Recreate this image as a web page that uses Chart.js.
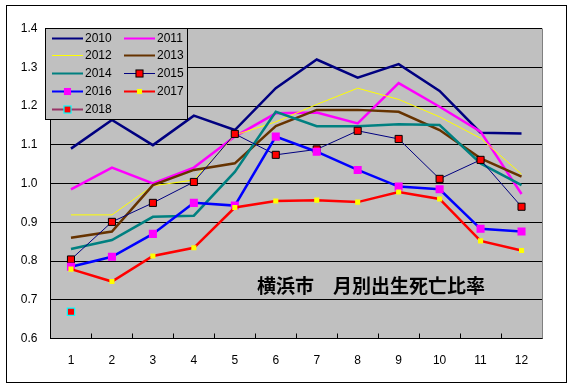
<!DOCTYPE html>
<html><head><meta charset="utf-8">
<script src="https://cdn.jsdelivr.net/npm/chart.js@4"></script>
<style>html,body{margin:0;padding:0;background:#fff;}canvas{display:block;}</style>
</head><body>
<canvas id="c" width="573" height="389"></canvas>
<script>
const months = ['1','2','3','4','5','6','7','8','9','10','11','12'];
const yTicks = [0.6,0.7,0.8,0.9,1.0,1.1,1.2,1.3,1.4];
const title = '横浜市　月別出生死亡比率';
const years = ['2010','2011','2012','2013','2014','2015','2016','2017','2018'];
const v2010 = [1.090,1.164,1.099,1.175,1.138,1.246,1.320,1.273,1.308,1.239,1.131,1.129];
const v2011 = [0.985,1.041,1.000,1.041,1.121,1.181,1.183,1.155,1.259,1.198,1.134,0.973];
const v2012 = [0.919,0.919,0.994,1.009,1.125,1.159,1.204,1.246,1.217,1.172,1.117,1.024];
const v2013 = [0.860,0.876,0.996,1.035,1.052,1.148,1.190,1.190,1.185,1.138,1.065,1.018];
const v2014 = [0.831,0.854,0.914,0.917,1.030,1.185,1.148,1.148,1.153,1.151,1.052,0.996];
const v2015 = [0.804,0.901,0.950,1.004,1.128,1.074,1.088,1.136,1.115,1.012,1.061,0.940];
const v2016 = [0.785,0.811,0.870,0.950,0.943,1.121,1.082,1.035,0.992,0.985,0.883,0.876];
const v2017 = [0.779,0.747,0.813,0.834,0.938,0.955,0.957,0.952,0.978,0.960,0.852,0.827];
const v2018 = [0.669,null,null,null,null,null,null,null,null,null,null,null];

const styles = [
  {c:'#000080', w:2.5},
  {c:'#FF00FF', w:2.5},
  {c:'#FFFF00', w:1},
  {c:'#663300', w:2.5},
  {c:'#008080', w:2.5},
  {c:'#000080', w:1, ps:'rect', pr:5, pf:'#FF0000', pb:'#000000', pbw:1},
  {c:'#0000FF', w:2.5, ps:'rect', pr:5.7, pf:'#FF00FF', pb:'#FF00FF', pbw:0},
  {c:'#FF0000', w:2.5, ps:'rect', pr:3.6, pf:'#FFFF00', pb:'#FFFF00', pbw:0},
  {c:'#993366', w:2.5, ps:'rect', pr:5.2, pf:'#FF0000', pb:'#00FFFF', pbw:1.2}
];
const series = [v2010,v2011,v2012,v2013,v2014,v2015,v2016,v2017,v2018];

const datasets = series.map((d,i)=>{
  const s = styles[i];
  return {
    label: years[i], data: d, borderColor: s.c, backgroundColor: s.c,
    borderWidth: s.w, tension: 0, order: 20 - i,
    pointStyle: s.ps || 'circle', pointRadius: s.ps ? s.pr : 0,
    pointBackgroundColor: s.pf || s.c, pointBorderColor: s.pb || s.c,
    pointBorderWidth: s.pbw || 0, pointHoverRadius: 0
  };
});

const deco = {
  id: 'deco',
  beforeDraw(chart){
    const {ctx, chartArea:a} = chart;
    ctx.save();
    ctx.fillStyle = '#fff';
    ctx.fillRect(0,0,chart.width,chart.height);
    ctx.fillStyle = '#C0C0C0';
    ctx.fillRect(a.left, a.top, a.right-a.left, a.bottom-a.top);
    ctx.restore();
  },
  afterDraw(chart){
    const {ctx, chartArea:a} = chart;
    const xs = chart.scales.x;
    ctx.save();
    ctx.strokeStyle = '#808080'; ctx.lineWidth = 1;
    ctx.beginPath(); ctx.moveTo(Math.round(a.right)+0.5, a.top); ctx.lineTo(Math.round(a.right)+0.5, a.bottom); ctx.stroke();
    ctx.strokeStyle = '#000';
    ctx.beginPath();
    for (let i=1;i<months.length;i++){
      const x = Math.round((xs.getPixelForValue(i-1)+xs.getPixelForValue(i))/2)+0.5;
      ctx.moveTo(x, a.bottom); ctx.lineTo(x, a.bottom-5);
    }
    ctx.stroke();
    ctx.strokeStyle = '#000'; ctx.lineWidth = 1;
    ctx.strokeRect(6.5, 5.5, 560, 377);
    ctx.fillStyle = '#000';
    ctx.font = 'bold 19px "Noto Sans CJK JP"';
    ctx.textBaseline = 'middle'; ctx.textAlign = 'left';
    ctx.fillText(title, 257, 285.5);
    const L = 45.5, T = 28.5, R = 187.5, B = 119.5;
    ctx.fillStyle = '#C0C0C0';
    ctx.fillRect(L, T, R-L, B-T);
    ctx.strokeStyle = '#000';
    ctx.strokeRect(L, T, R-L, B-T);
    ctx.font = '12px "Liberation Sans"';
    ctx.textBaseline = 'middle';
    chart.data.datasets.forEach((ds,i)=>{
      const col = i%2, row = Math.floor(i/2);
      const x0 = col ? 124 : 52, x1 = x0 + 31;
      const y = Math.round(37.5 + row*17.8) + 0.5;
      ctx.strokeStyle = ds.borderColor;
      ctx.lineWidth = ds.borderWidth >= 2 ? 2 : 1;
      ctx.beginPath(); ctx.moveTo(x0, y); ctx.lineTo(x1, y); ctx.stroke();
      if (ds.pointRadius > 0){
        const sz = Math.min(ds.pointRadius, 5)*Math.SQRT1_2;
        const cx = (x0+x1)/2;
        ctx.fillStyle = ds.pointBackgroundColor;
        ctx.fillRect(cx-sz, y-sz, 2*sz, 2*sz);
        if (ds.pointBorderWidth > 0){
          ctx.strokeStyle = ds.pointBorderColor; ctx.lineWidth = ds.pointBorderWidth;
          ctx.strokeRect(cx-sz, y-sz, 2*sz, 2*sz);
        }
      }
      ctx.fillStyle = '#000';
      ctx.fillText(ds.label, x1 + 2, y);
    });
    ctx.restore();
  }
};

new Chart(document.getElementById('c'), {
  type: 'line',
  data: { labels: months, datasets },
  options: {
    responsive: false, animation: false, devicePixelRatio: 1,
    layout: { padding: { left: 0, right: 31, top: 28.5, bottom: 0 } },
    plugins: { legend: { display: false }, tooltip: { enabled: false }, title: { display: false } },
    scales: {
      x: {
        type: 'category', offset: true,
        grid: { display: false, drawTicks: false },
        border: { display: true, color: '#000', width: 1 },
        ticks: { color: '#000', font: { family: 'Liberation Sans', size: 12 }, padding: 15, maxRotation: 0 },
        afterFit(s){ s.height = 50.5; }
      },
      y: {
        min: 0.6, max: 1.4,
        afterBuildTicks(s){ s.ticks = yTicks.map(v=>({value:v})); },
        grid: { color: '#000', lineWidth: 1, drawTicks: false },
        border: { display: true, color: '#000', width: 1 },
        ticks: { color: '#000', font: { family: 'Liberation Sans', size: 12 }, padding: 13,
                 callback: v => Number(v).toFixed(1) },
        afterFit(s){ s.width = 50.5; }
      }
    }
  },
  plugins: [deco]
});
</script>
</body></html>
